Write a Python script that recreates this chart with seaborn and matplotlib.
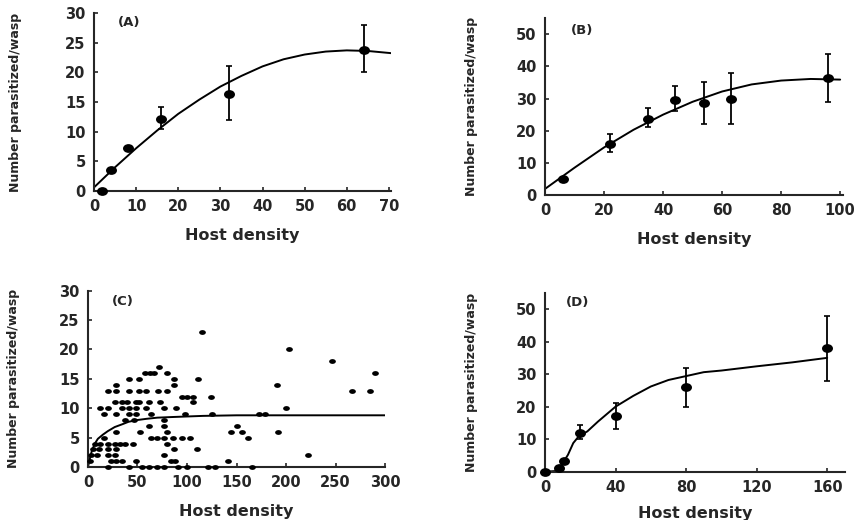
import numpy as np
import pandas as pd
import matplotlib
matplotlib.use("Agg")
import matplotlib.pyplot as plt
from matplotlib.markers import MarkerStyle
from matplotlib.transforms import Affine2D
import seaborn as sns

# ---------------- data ----------------
# Panel A
a_x = [2, 4, 8, 16, 32, 64]
a_y = [0.0, 3.5, 7.3, 12.2, 16.3, 23.8]
a_err_x = [16, 32, 64]
a_err_lo = [10.5, 12.0, 20.0]
a_err_hi = [14.2, 21.0, 28.0]
a_curve_x = [0, 5, 10, 15, 20, 25, 30, 35, 40, 45, 50, 55, 60, 65, 71]
a_curve_y = [0.6, 4.0, 7.2, 10.2, 13.0, 15.4, 17.6, 19.4, 21.0, 22.2, 23.0, 23.5, 23.7, 23.6, 23.2]

# Panel B
b_x = [6, 22, 35, 44, 54, 63, 96]
b_y = [5.0, 16.0, 23.5, 29.5, 28.5, 30.0, 36.5]
b_err_x = [22, 35, 44, 54, 63, 96]
b_err_lo = [13.5, 21.0, 26.0, 22.0, 22.0, 29.0]
b_err_hi = [19.0, 27.0, 34.0, 35.0, 38.0, 44.0]
b_curve_x = [0, 10, 20, 30, 40, 50, 60, 70, 80, 90, 100]
b_curve_y = [1.9, 8.5, 14.8, 20.3, 25.0, 29.0, 32.2, 34.4, 35.6, 36.1, 35.9]

# Panel C (scatter)
c_x = [72, 58, 63, 67, 80, 41, 52, 111, 87, 28, 87,
       20, 28, 41, 52, 59, 71, 80,
       95, 100, 106, 124,
       27, 34, 39, 48, 52, 62, 73, 106,
       12, 20, 34, 41, 48, 59, 77, 89,
       16, 28, 41, 48, 64, 98, 125,
       37, 46, 77,
       62, 77, 150,
       28, 53, 80, 144, 155, 192,
       16, 64, 70, 77, 86, 95, 103, 162,
       7, 12, 20, 27, 32, 37, 45, 80,
       5, 11, 20, 28, 87, 110,
       9, 20, 27, 77, 222,
       23, 28, 34, 48, 84, 88, 141,
       20, 41, 55, 62, 70, 77, 91, 100, 121, 128, 166,
       115, 173, 179, 191, 200, 203, 246, 267, 285, 290, 2, 3]
c_y = [17, 16, 16, 16, 16, 15, 15, 15, 15, 14, 14,
       13, 13, 13, 13, 13, 13, 13,
       12, 12, 12, 12,
       11, 11, 11, 11, 11, 11, 11, 11,
       10, 10, 10, 10, 10, 10, 10, 10,
       9, 9, 9, 9, 9, 9, 9,
       8, 8, 8,
       7, 7, 7,
       6, 6, 6, 6, 6, 6,
       5, 5, 5, 5, 5, 5, 5, 5,
       4, 4, 4, 4, 4, 4, 4, 4,
       3, 3, 3, 3, 3, 3,
       2, 2, 2, 2, 2,
       1, 1, 1, 1, 1, 1, 1,
       0, 0, 0, 0, 0, 0, 0, 0, 0, 0, 0,
       23, 9, 9, 14, 10, 20, 18, 13, 13, 16, 1, 2]
c_curve_x = [0, 2, 4, 7, 10, 15, 20, 27, 35, 41, 50, 59, 70, 84, 100, 116, 150, 200, 250, 300]
c_curve_y = [0.0, 1.5, 2.8, 4.0, 4.8, 5.5, 6.1, 6.8, 7.3, 7.7, 8.0, 8.2, 8.4, 8.5, 8.6, 8.7, 8.8, 8.8, 8.8, 8.8]

# Panel D
d_x = [0, 8, 11, 20, 40, 80, 160]
d_y = [0.0, 1.2, 3.3, 12.0, 17.0, 26.0, 38.0]
d_err_x = [20, 40, 80, 160]
d_err_lo = [10.0, 13.0, 20.0, 28.0]
d_err_hi = [14.5, 21.0, 32.0, 48.0]
d_curve_x = [0, 6, 8, 10, 13, 16, 19, 24, 30, 40, 50, 60, 70, 80, 90, 100, 120, 140, 160]
d_curve_y = [0.0, 0.2, 1.0, 2.6, 5.2, 8.8, 10.8, 12.4, 15.4, 20.0, 23.3, 26.2, 28.2, 29.4, 30.6, 31.1, 32.4, 33.6, 35.0]

# ---------------- styling ----------------
sns.set_style("ticks")
plt.rcParams["font.family"] = ["DejaVu Sans"]
plt.rcParams["font.weight"] = "bold"
plt.rcParams["axes.labelweight"] = "bold"

fig = plt.figure(figsize=(8.59, 5.20), dpi=100)

axA = fig.add_axes([0.1094, 0.6327, 0.3458, 0.3423])
axB = fig.add_axes([0.6345, 0.6250, 0.3470, 0.3400])
axC = fig.add_axes([0.1024, 0.1019, 0.3460, 0.3390])
axD = fig.add_axes([0.6345, 0.0929, 0.3490, 0.3440])

big_dot = MarkerStyle("o", transform=Affine2D().scale(1.25, 1.0))
small_dot = MarkerStyle("o", transform=Affine2D().scale(1.4, 1.0))


def draw_panel(ax, x, y, cx, cy, ex=None, elo=None, ehi=None, msize=40, marker=big_dot):
    sns.lineplot(x=cx, y=cy, ax=ax, color="black", linewidth=1.4, sort=False)
    if ex is not None:
        ex = np.asarray(ex)
        lo = np.asarray(elo)
        hi = np.asarray(ehi)
        mid = (lo + hi) / 2
        ax.errorbar(ex, mid, yerr=(hi - lo) / 2, fmt="none", ecolor="black",
                    elinewidth=1.3, capsize=2.5, capthick=1.2)
    sns.scatterplot(x=x, y=y, ax=ax, color="black", s=msize, marker=marker,
                    edgecolor="black", linewidth=0, zorder=5)


draw_panel(axA, a_x, a_y, a_curve_x, a_curve_y, a_err_x, a_err_lo, a_err_hi)
draw_panel(axB, b_x, b_y, b_curve_x, b_curve_y, b_err_x, b_err_lo, b_err_hi)
draw_panel(axC, c_x, c_y, c_curve_x, c_curve_y, msize=12, marker=small_dot)
draw_panel(axD, d_x, d_y, d_curve_x, d_curve_y, d_err_x, d_err_lo, d_err_hi)

settings = [
    (axA, (0, 70.5), (0, 30), np.arange(0, 71, 10), np.arange(0, 31, 5), "(A)", (0.12, 0.944), -0.242, -0.21),
    (axB, (0, 101), (0, 55), np.arange(0, 101, 20), np.arange(0, 51, 10), "(B)", (0.124, 0.93), -0.225, -0.21),
    (axC, (0, 300), (0, 30), np.arange(0, 301, 50), np.arange(0, 31, 5), "(C)", (0.118, 0.94), -0.229, -0.21),
    (axD, (0, 170), (0, 55), np.arange(0, 161, 40), np.arange(0, 51, 10), "(D)", (0.11, 0.944), -0.225, -0.19),
]

for ax, xl, yl, xt, yt, lab, lpos, ylx, xly in settings:
    ax.set_xlim(*xl)
    ax.set_ylim(*yl)
    ax.set_xticks(xt)
    ax.set_yticks(yt)
    sns.despine(ax=ax)
    ax.spines["left"].set_linewidth(1.5)
    ax.spines["bottom"].set_linewidth(1.5)
    ax.tick_params(direction="in", length=3, width=1.2, labelsize=10.5, pad=6)
    for t in ax.get_xticklabels() + ax.get_yticklabels():
        t.set_fontweight("bold")
    ax.set_xlabel("Host density", fontsize=11.5, fontweight="bold")
    ax.set_ylabel("Number parasitized/wasp", fontsize=9, fontweight="bold")
    ax.xaxis.set_label_coords(0.5, xly)
    ax.yaxis.set_label_coords(ylx, 0.5)
    ax.text(lpos[0], lpos[1], lab, transform=ax.transAxes, ha="center", va="center",
            fontsize=9.5, fontweight="bold")
    for c in ax.collections:
        c.set_clip_on(False)

fig.savefig("out.png", dpi=100)
